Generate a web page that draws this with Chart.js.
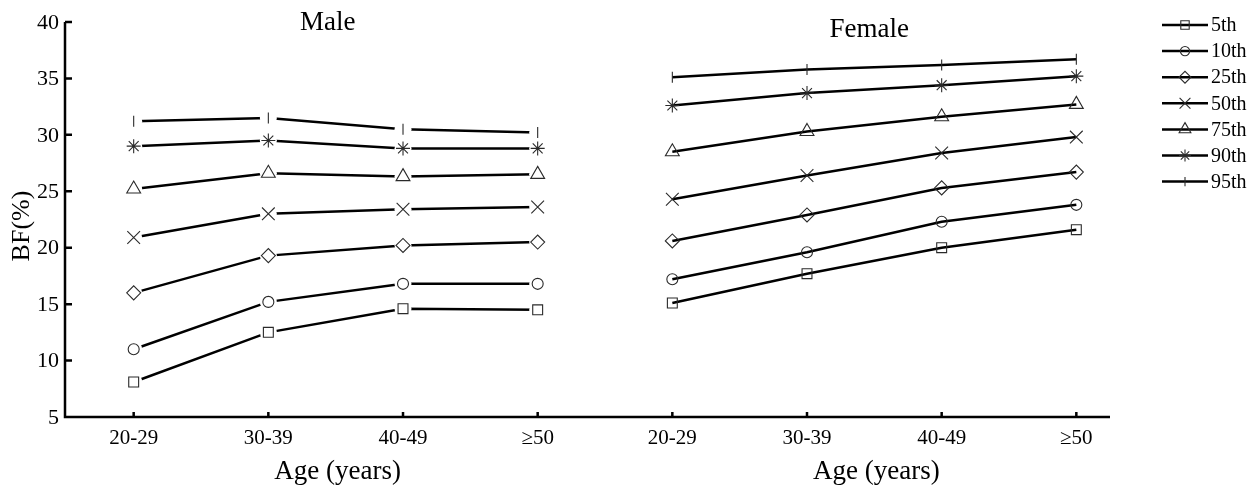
<!DOCTYPE html>
<html>
<head>
<meta charset="utf-8">
<title>Body fat percentiles by age</title>
<script src="https://cdn.jsdelivr.net/npm/chart.js@4.4.1/dist/chart.umd.min.js"></script>
<style>
  html, body { margin: 0; padding: 0; background: #ffffff; }
  #wrap { width: 1255px; height: 488px; position: relative; }
</style>
</head>
<body>
<div id="wrap"><canvas id="chart" width="1255" height="488"></canvas></div>
<script>
// Age groups shown under each panel
const ageGroups = ['20-29', '30-39', '40-49', '\u226550'];
const panelTitles = ['Male', 'Female'];
const percentiles = ['5th', '10th', '25th', '50th', '75th', '90th', '95th'];
const yTicks = [5, 10, 15, 20, 25, 30, 35, 40];

// Body fat (%) percentiles, men
const maleP5  = [8.1, 12.5, 14.6, 14.5];
const maleP10 = [11.0, 15.2, 16.8, 16.8];
const maleP25 = [16.0, 19.3, 20.2, 20.5];
const maleP50 = [20.9, 23.0, 23.4, 23.6];
const maleP75 = [25.2, 26.6, 26.3, 26.5];
const maleP90 = [29.0, 29.5, 28.8, 28.8];
const maleP95 = [31.2, 31.5, 30.5, 30.2];

// Body fat (%) percentiles, women
const femaleP5  = [15.1, 17.7, 20.0, 21.6];
const femaleP10 = [17.2, 19.6, 22.3, 23.8];
const femaleP25 = [20.6, 22.9, 25.3, 26.7];
const femaleP50 = [24.3, 26.4, 28.4, 29.8];
const femaleP75 = [28.5, 30.3, 31.6, 32.7];
const femaleP90 = [32.6, 33.7, 34.4, 35.2];
const femaleP95 = [35.1, 35.8, 36.2, 36.7];

const maleSeries = [maleP5, maleP10, maleP25, maleP50, maleP75, maleP90, maleP95];
const femaleSeries = [femaleP5, femaleP10, femaleP25, femaleP50, femaleP75, femaleP90, femaleP95];

// Marker look per percentile
const markerStyles = ['rect', 'circle', 'rectRot', 'crossRot', 'triangle', 'star', 'line'];
const markerRadii = [7, 5.5, 7, 9, 8, 7, 5.5];
const markerRotations = [0, 0, 0, 0, 0, 0, 90];

const SERIF = '"Liberation Serif", "Times New Roman", serif';
const LINE_W = 2.5;
const MARK_COLOR = '#2a2a2a';

// x position on the shared linear axis: panel p, age group i
const xPos = (p, i) => p * ageGroups.length + i + 1;
const toPoints = (vals, p) => vals.map((v, i) => ({ x: xPos(p, i), y: v }));

const datasets = [];
percentiles.forEach((name, s) => {
  const maleData = toPoints(maleSeries[s], 0);
  // male: line first, then a white halo that opens a gap around each marker
  datasets.push({
    label: name + ' male line', data: maleData, order: 3,
    borderColor: '#000', borderWidth: LINE_W, pointRadius: 0, fill: false, tension: 0
  });
  datasets.push({
    label: name + ' male gap', data: maleData, order: 2, showLine: false,
    pointStyle: 'circle', pointRadius: 8.5, pointBackgroundColor: '#ffffff',
    pointBorderWidth: 0, pointBorderColor: '#ffffff'
  });
  datasets.push({
    label: name + ' male', data: maleData, order: 1, showLine: false,
    pointStyle: markerStyles[s], pointRadius: markerRadii[s], pointRotation: markerRotations[s],
    pointBorderColor: MARK_COLOR, pointBorderWidth: 1.1, pointBackgroundColor: 'rgba(0,0,0,0)'
  });
  // female: line runs straight through the open markers
  datasets.push({
    label: name + ' female', data: toPoints(femaleSeries[s], 1), order: 1,
    borderColor: '#000', borderWidth: LINE_W, fill: false, tension: 0,
    pointStyle: markerStyles[s], pointRadius: markerRadii[s], pointRotation: markerRotations[s],
    pointBorderColor: MARK_COLOR, pointBorderWidth: 1.1, pointBackgroundColor: 'rgba(0,0,0,0)'
  });
});

// Axes, tick labels, titles and the percentile key
const framePlugin = {
  id: 'frame',
  afterDraw(chart) {
    const { ctx, chartArea: a, scales: { x, y } } = chart;
    ctx.save();
    ctx.strokeStyle = '#000';
    ctx.fillStyle = '#000';
    ctx.lineWidth = LINE_W;
    ctx.lineJoin = 'miter';
    ctx.lineCap = 'butt';

    // axis lines
    ctx.beginPath();
    ctx.moveTo(a.left, a.top);
    ctx.lineTo(a.left, a.bottom);
    ctx.lineTo(a.right, a.bottom);
    ctx.stroke();

    // inward tick marks
    ctx.beginPath();
    yTicks.forEach(v => {
      const py = y.getPixelForValue(v);
      if (v !== yTicks[0]) { ctx.moveTo(a.left, py); ctx.lineTo(a.left + 7, py); }
    });
    panelTitles.forEach((t, p) => ageGroups.forEach((g, i) => {
      const px = x.getPixelForValue(xPos(p, i));
      ctx.moveTo(px, a.bottom); ctx.lineTo(px, a.bottom - 5);
    }));
    ctx.stroke();

    // y tick labels
    ctx.font = '22px ' + SERIF;
    ctx.textAlign = 'right';
    ctx.textBaseline = 'middle';
    yTicks.forEach(v => ctx.fillText(String(v), a.left - 6, y.getPixelForValue(v) + 1));

    // x tick labels
    ctx.font = '21px ' + SERIF;
    ctx.textAlign = 'center';
    panelTitles.forEach((t, p) => ageGroups.forEach((g, i) => {
      ctx.fillText(g, x.getPixelForValue(xPos(p, i)), a.bottom + 21);
    }));

    // per-panel axis title and panel title
    panelTitles.forEach((t, p) => {
      const first = x.getPixelForValue(xPos(p, 0));
      const last = x.getPixelForValue(xPos(p, ageGroups.length - 1));
      const mid = (first + last) / 2;
      ctx.font = '27px ' + SERIF;
      ctx.textBaseline = 'alphabetic';
      ctx.fillText('Age (years)', mid + 2, a.bottom + 62);
      ctx.fillText(t, p === 0 ? mid - 8 : mid - 5, p === 0 ? 30 : 37);
    });

    // y axis title
    ctx.save();
    ctx.translate(22, 226);
    ctx.rotate(-Math.PI / 2);
    ctx.font = '26px ' + SERIF;
    ctx.textAlign = 'center';
    ctx.textBaseline = 'middle';
    ctx.fillText('BF(%)', 0, 0);
    ctx.restore();

    // key
    const kx0 = 1162, kx1 = 1208, ky0 = 25, kdy = 26.1;
    percentiles.forEach((name, s) => {
      const ky = ky0 + s * kdy;
      ctx.strokeStyle = '#000';
      ctx.lineWidth = LINE_W;
      ctx.beginPath();
      ctx.moveTo(kx0, ky);
      ctx.lineTo(kx1, ky);
      ctx.stroke();
      if (Chart.helpers && Chart.helpers.drawPoint) {
        ctx.strokeStyle = MARK_COLOR;
        ctx.fillStyle = 'rgba(0,0,0,0)';
        ctx.lineWidth = 1.1;
        Chart.helpers.drawPoint(ctx, {
          pointStyle: markerStyles[s], rotation: markerRotations[s],
          radius: markerRadii[s] * 0.85, borderWidth: 1.1
        }, (kx0 + kx1) / 2, ky);
      }
      ctx.fillStyle = '#000';
      ctx.font = '20px ' + SERIF;
      ctx.textAlign = 'left';
      ctx.textBaseline = 'middle';
      ctx.fillText(name, 1211, ky + 1);
    });
    ctx.restore();
  }
};

new Chart(document.getElementById('chart'), {
  type: 'line',
  data: { datasets },
  options: {
    responsive: false,
    animation: false,
    devicePixelRatio: 1,
    layout: { padding: { left: 65, right: 145, top: 22, bottom: 71 } },
    scales: {
      x: { type: 'linear', min: 0.49, max: 8.25, display: false },
      y: { type: 'linear', min: 5, max: 40, display: false }
    },
    plugins: { legend: { display: false }, tooltip: { enabled: false } },
    events: []
  },
  plugins: [framePlugin]
});
</script>
</body>
</html>
